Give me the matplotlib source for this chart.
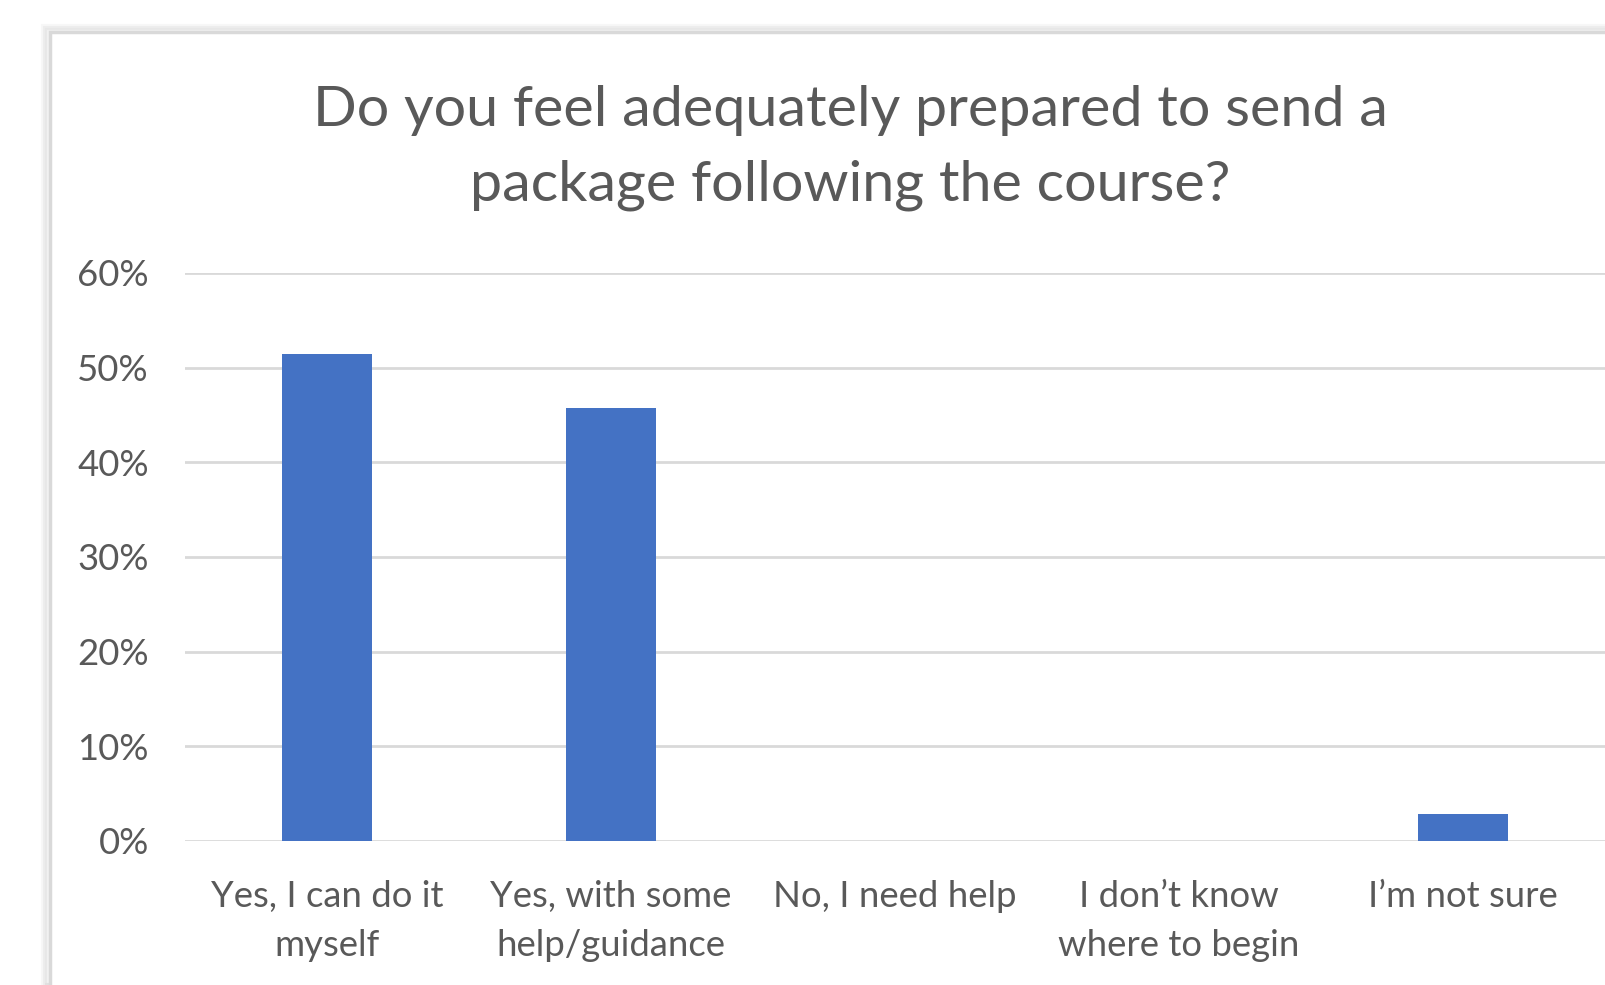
import matplotlib.pyplot as plt
from matplotlib.patches import Rectangle
from matplotlib.ticker import PercentFormatter

categories = ["Yes, I can do it\nmyself", "Yes, with some\nhelp/guidance",
              "No, I need help", "I don\u2019t know\nwhere to begin", "I\u2019m not sure"]
values = [0.514, 0.457, 0.0, 0.0, 0.0286]
yticks = [0, 0.1, 0.2, 0.3, 0.4, 0.5, 0.6]

grey = "#595959"
plt.rcParams['font.family'] = ['Lato', 'DejaVu Sans']

W, H = 1605, 985
fig = plt.figure(figsize=(W / 100, H / 100), dpi=100)

# chart frame with a soft shadow
for i, a in enumerate([0.05, 0.04, 0.03]):
    fig.patches.append(Rectangle(((47 - 2 * i) / W, 0), 1, (H - 30 + 2 * i) / H,
                                 transform=fig.transFigure, fc="none",
                                 ec="#000000", alpha=a, lw=3, zorder=-10))
fig.patches.append(Rectangle((50 / W, -0.1), 1, (H - 32) / H + 0.1,
                             transform=fig.transFigure, fc="white",
                             ec="#d9d9d9", lw=2.5, zorder=-9))

ax = fig.add_axes([185 / W, 1 - 841 / H, 1420 / W, (841 - 273) / H])
ax.set_zorder(5)
x = range(len(categories))
ax.bar(x, values, width=0.315, color="#4472C4", zorder=3)
ax.set_xlim(-0.5, len(categories) - 0.5)
ax.set_ylim(0, 0.6)
ax.set_yticks(yticks)
ax.yaxis.set_major_formatter(PercentFormatter(1.0, decimals=0))
ax.grid(axis="y", color="#d9d9d9", lw=2, zorder=0)
ax.set_xticks(list(x))
ax.set_xticklabels(categories, linespacing=1.6)
for s in ax.spines.values():
    s.set_visible(False)
ax.tick_params(axis="both", length=0, colors=grey, labelsize=26.3)
ax.tick_params(axis="y", pad=26)
ax.tick_params(axis="x", pad=28)
ax.set_facecolor("none")

fig.text(850 / W, 1 - 148 / H,
         "Do you feel adequately prepared to send a\npackage following the course?",
         ha="center", va="center", fontsize=41.4, color=grey, linespacing=1.55,
         zorder=6)

fig.savefig("out.png", dpi=100)
